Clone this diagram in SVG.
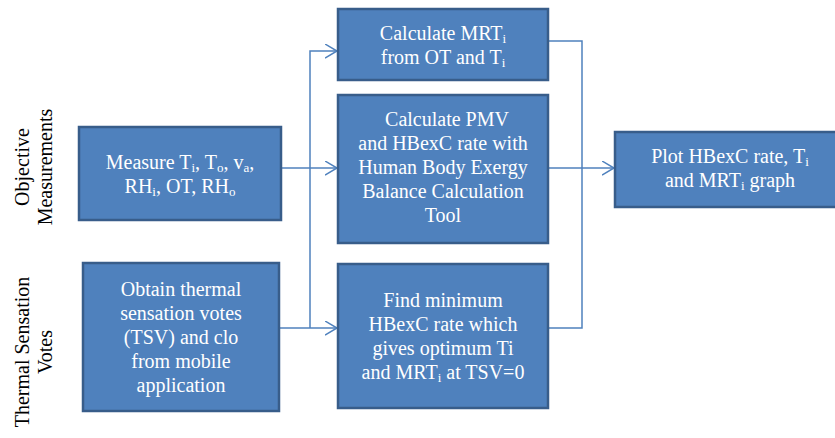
<svg xmlns="http://www.w3.org/2000/svg" width="835" height="438" viewBox="0 0 835 438">
<style>
.box{fill:#4f81bd;stroke:#385d8a;stroke-width:2.5}
.t{font-family:'Liberation Serif','Times New Roman',serif;font-size:20px;fill:#ffffff;text-anchor:middle}
.lbl{font-family:'Liberation Serif','Times New Roman',serif;font-size:20px;fill:#000000;text-anchor:middle}
.s{font-size:13px}
.c{fill:none;stroke:#4f81bd;stroke-width:1.5}
</style>
<defs>
<marker id="arr" markerUnits="userSpaceOnUse" markerWidth="14" markerHeight="16" refX="12" refY="7" orient="auto" viewBox="0 0 14 16">
<path d="M0,0 L12,7 L0,14" fill="none" stroke="#4f81bd" stroke-width="1.5"/>
</marker>
</defs>
<g id="labels">
<text class="lbl" transform="translate(29,167) rotate(-90)">Objective</text>
<text class="lbl" transform="translate(52,167) rotate(-90)">Measurements</text>
<text class="lbl" transform="translate(29,352) rotate(-90)">Thermal Sensation</text>
<text class="lbl" transform="translate(52,352) rotate(-90)">Votes</text>
</g>
<g id="connectors">
<path class="c" d="M282,168 H337" marker-end="url(#arr)"/>
<path class="c" d="M310,328 V51 H337" marker-end="url(#arr)"/>
<path class="c" d="M279,328 H337" marker-end="url(#arr)"/>
<path class="c" d="M548,41 H582 V328 H548"/>
<path class="c" d="M548,168 H614" marker-end="url(#arr)"/>
</g>
<g id="measure">
<rect class="box" x="79" y="127" width="202" height="93"/>
<text class="t" x="180" y="169">Measure T<tspan class="s" dy="3">i</tspan><tspan dy="-3">, T</tspan><tspan class="s" dy="3">o</tspan><tspan dy="-3">, v</tspan><tspan class="s" dy="3">a</tspan><tspan dy="-3">,</tspan></text>
<text class="t" x="180" y="193">RH<tspan class="s" dy="3">i</tspan><tspan dy="-3">, OT, RH</tspan><tspan class="s" dy="3">o</tspan></text>
</g>
<g id="obtain">
<rect class="box" x="83" y="263" width="196" height="148"/>
<text class="t" x="181" y="296">Obtain thermal</text>
<text class="t" x="181" y="320">sensation votes</text>
<text class="t" x="181" y="344">(TSV) and clo</text>
<text class="t" x="181" y="368">from mobile</text>
<text class="t" x="181" y="392">application</text>
</g>
<g id="calc-mrt">
<rect class="box" x="338" y="9" width="210" height="71"/>
<text class="t" x="443" y="40">Calculate MRT<tspan class="s" dy="3">i</tspan></text>
<text class="t" x="443" y="64">from OT and T<tspan class="s" dy="3">i</tspan></text>
</g>
<g id="calc-pmv">
<rect class="box" x="338" y="95" width="210" height="148"/>
<text class="t" x="447" y="126">Calculate PMV</text>
<text class="t" x="443" y="150">and HBexC rate with</text>
<text class="t" x="443" y="174">Human Body Exergy</text>
<text class="t" x="443" y="198">Balance Calculation</text>
<text class="t" x="443" y="222">Tool</text>
</g>
<g id="find-min">
<rect class="box" x="338" y="264" width="210" height="144"/>
<text class="t" x="443" y="307">Find minimum</text>
<text class="t" x="443" y="331">HBexC rate which</text>
<text class="t" x="443" y="355">gives optimum Ti</text>
<text class="t" x="443" y="379">and MRT<tspan class="s" dy="3">i</tspan><tspan dy="-3"> at TSV=0</tspan></text>
</g>
<g id="plot">
<rect class="box" x="615" y="132" width="232" height="75"/>
<text class="t" x="730" y="163">Plot HBexC rate, T<tspan class="s" dy="3">i</tspan></text>
<text class="t" x="730" y="187">and MRT<tspan class="s" dy="3">i</tspan><tspan dy="-3"> graph</tspan></text>
</g>
</svg>
